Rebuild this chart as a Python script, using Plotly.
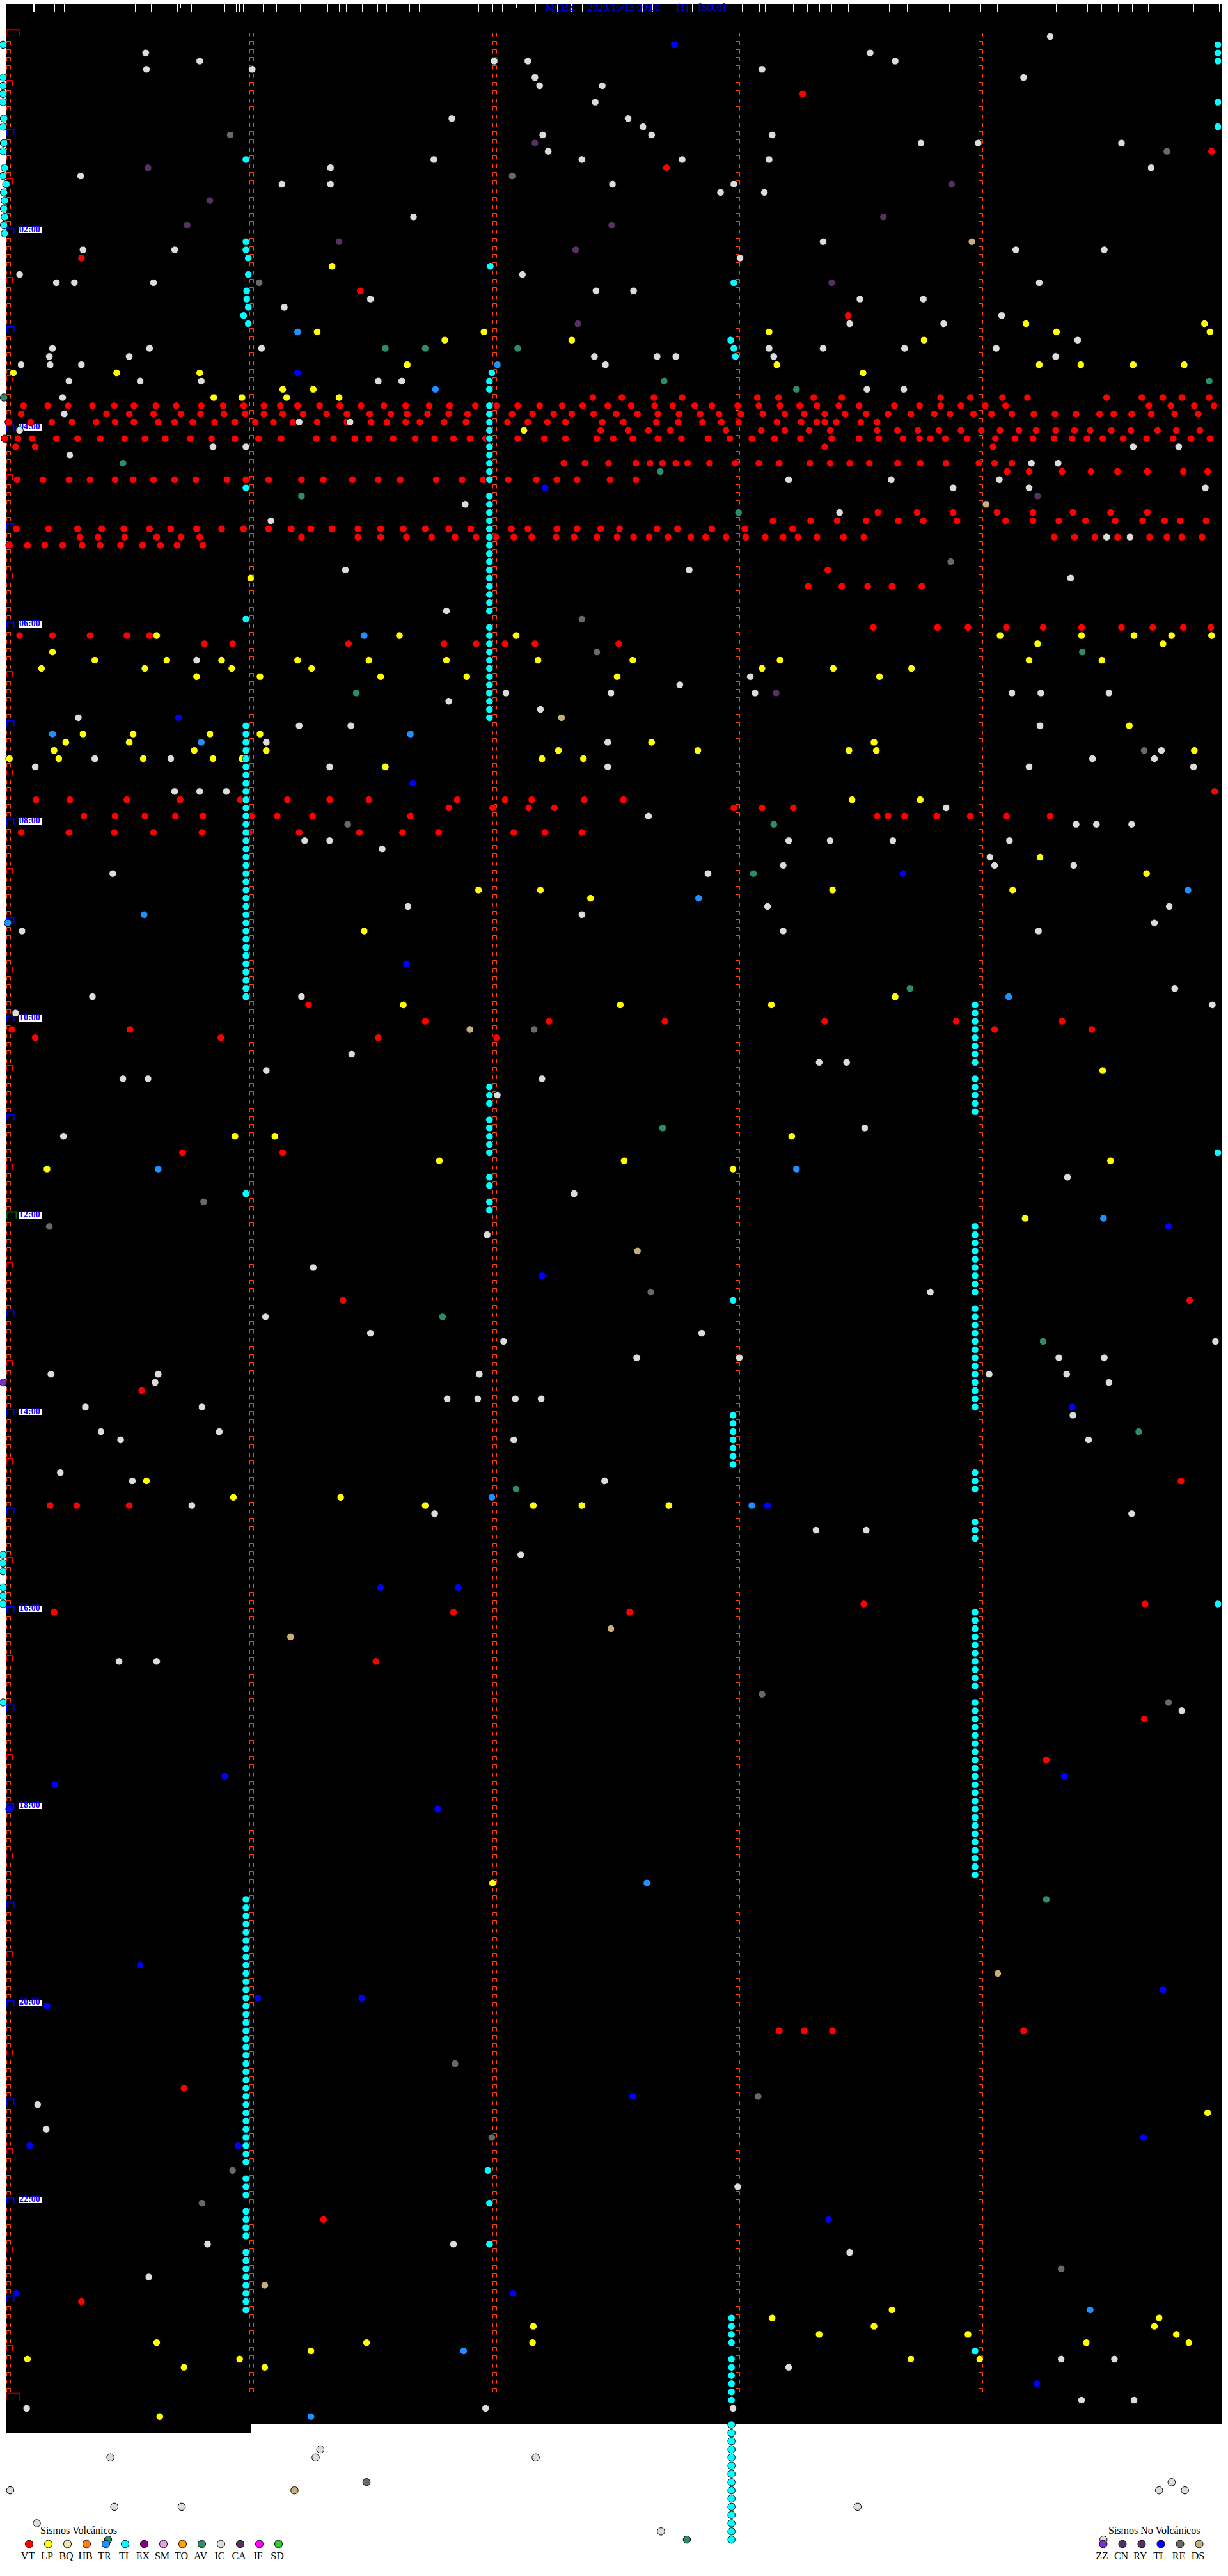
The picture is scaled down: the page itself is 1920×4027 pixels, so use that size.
import plotly.graph_objects as go

# Helicorder: each row is 5 minutes, position unit = 1/1568 of the page width
VT = {7:[1025],14:[1547],16:[851],27:[104],31:[460],34:[1083],
44:[757,794,835,871,967,994,1039,1075,1201,1239,1280,1312,1413,1458,1485,1509,1544],
45:[30,61,87,118,146,171,199,225,257,285,311,337,358,380,408,434,461,490,518,548,574,607,634,661,689,718,744,776,806,836,859,887,909,942,969,996,1021,1043,1071,1097,1142,1174,1201,1227,1258,1284,1467,1495,1525,1550],
46:[27,136,165,196,231,256,286,313,337,361,387,417,443,472,499,520,546,573,597,654,680,707,730,758,787,814,840,867,894,918,946,974,1002,1027,1053,1079,1106,1134,1163,1193,1213,1243,1266,1292,1320,1347,1374,1404,1422,1445,1470,1500,1530],
47:[11,39,66,92,123,147,171,202,223,246,274,300,326,349,374,405,443,474,494,518,536,567,595,648,674,699,722,769,796,838,866,897,921,943,992,1023,1043,1053,1068,1099,1120],
48:[767,802,828,856,927,972,1002,1033,1060,1120,1146,1172,1199,1227,1253,1277,1301,1323,1348,1372,1392,1419,1444,1478,1502,1532],
49:[6,23,41,72,99,128,159,185,211,243,270,300,330,359,404,426,453,471,502,530,555,579,600,620,661,695,722,762,783,808,840,870,904,932,960,989,1022,1062,1097,1122,1153,1174,1188,1207,1235,1271,1296,1319,1346,1369,1388,1408,1434,1464,1498,1521,1545],
50:[20,45,1053,1268],
52:[720,747,777,812,830,846,863,878,906,939,969,995,1034,1060,1085,1110,1146,1175,1208,1250,1270,1292],
53:[1286,1314,1356,1393,1427,1465,1511,1542],
54:[22,55,88,115,147,170,196,223,250,290,314,343,385,413,450,483,511,557,590,617,649,685,711,737,779,812],
58:[1121,1171,1217,1273,1319,1370,1418,1465],
59:[987,1035,1069,1106,1147,1179,1222,1284,1319,1352,1386,1424,1459,1487,1507,1540],
60:[21,62,99,130,158,191,218,251,283,311,343,372,397,424,457,486,515,543,573,601,653,674,711,737,767,791,839,865,909,951,1012],
61:[102,125,159,200,231,255,385,457,486,519,551,581,608,633,656,679,710,733,762,788,809,829,853,882,901,927,952,977,1000,1019,1043,1077,1103,1346,1372,1398,1427,1468,1490,1509,1535],
62:[12,35,57,80,105,128,154,182,205,226,259],
65:[1057],67:[1032,1075,1108,1139,1177],
72:[1115,1197,1236,1285,1332,1381,1432,1472,1511,1546],
73:[25,67,115,162,191],74:[261,297,445,567,608,645,683,790],
92:[1551],93:[46,89,162,230,307,367,421,471,584,645,679,746,796],
94:[573,629,675,708,937,973,1013],
95:[107,147,185,224,259,321,354,399,524,1120,1134,1155,1196,1239,1285,1341],
97:[27,88,146,196,258,318,382,459,514,560,656,696,743],
118:[394],120:[543,701,849,1053,1221,1356],121:[15,166,1270,1394],122:[45,282,483,634],
136:[233,361],154:[438,1519],165:[181],176:[1508],179:[64,98,165],191:[1103,1462],192:[69,579,804],
198:[480],205:[1461],210:[1336],243:[995,1027,1063,1307],250:[235],266:[413],276:[104]}

LP = {28:[424],35:[1310,1538],36:[405,618,982,1349,1545],37:[568,730,1180],40:[520,992,1327,1380,1447,1512],
41:[17,149,255,1102],43:[361,400],44:[273,309,366,433],48:[669],66:[320],
73:[200,510,659,1277,1381,1448,1496,1547],74:[1325,1485],75:[67],
76:[121,213,283,380,471,570,687,808,996,1314,1407],77:[53,185,296,398,973,1064,1164],
78:[251,332,486,596,788,1123],84:[1442],85:[106,170,268,332],86:[84,165,832,1116],
87:[69,248,340,713,891,1084,1119,1525],88:[12,75,183,272,309,692,745],89:[492],93:[1088,1175],
100:[1328],102:[1464],104:[611,690,1063,1293],105:[754],109:[465],117:[1143],118:[515,792,985],
126:[1408],134:[300,351,1011],137:[561,797,1418],138:[60,936],144:[1309],176:[187],178:[298,435],
179:[543,681,743,854],225:[629],253:[1542],277:[1139],278:[986,1480],279:[681,1116,1474],
280:[1046,1236,1502],281:[200,468,680,1387,1518],282:[397],283:[35,306,1163,1251],284:[235,338],290:[204]}

TR = {36:[380],40:[635],43:[556],73:[465],85:[67,524],86:[257],104:[1517],105:[892],107:[184],108:[10],
117:[1288],138:[202,1017],144:[1409],178:[628],179:[960],225:[826],277:[1392],282:[592],290:[397]}

AV = {38:[492,543,661],42:[848,1544],43:[1017],44:[5],52:[157],53:[843],56:[385],58:[943],75:[1382],80:[455],
96:[988],102:[962],116:[1162],133:[846],156:[565],159:[1332],170:[1454],177:[659],227:[1336],305:[138,877]}

CA = {13:[683],16:[189],18:[1215],20:[268],22:[1128],23:[239,781],25:[433],26:[735],30:[1062],35:[738],56:[1325],80:[991]}

TL = {1:[861],41:[380],55:[696],83:[228],91:[527],102:[1153],113:[519],145:[1492],151:[692],167:[1369],179:[980],
189:[486,585],212:[287,1359],213:[70],216:[12,559],235:[179],238:[1485],239:[329,462],240:[60],251:[808],
256:[1460],257:[38,304],266:[1058],275:[21,655],286:[1324]}

RE = {12:[294],14:[1490],17:[654],30:[331],64:[1214],71:[743],75:[762],87:[1461],96:[444],121:[682],142:[260],
145:[63],153:[831],202:[973],203:[1492],247:[581],251:[968],256:[628],260:[297],264:[258],272:[1355],298:[468]}

DS = {25:[1241],57:[1259],83:[717],121:[600],148:[814],194:[780],195:[371],236:[1274],274:[338],299:[376]}

ZZ = {164:[4]}

IC = {0:[1341],2:[186,1111],3:[255,631,674,1143],4:[187,322,973],5:[683,1307],6:[689,769],8:[760],10:[577,802],11:[821],
12:[693,832,986],13:[1176,1249,1432],14:[700],15:[554,743,871,982],16:[422,1470],17:[103],18:[360,422,782,937],
19:[920,976],22:[528],25:[1051],26:[106,223,1297,1410],27:[945],29:[25,667],30:[72,95,196,1327],31:[761,809],
32:[473,1098,1179],33:[363],34:[1279],35:[1085,1205],37:[1376],38:[67,191,334,982,1051,1155,1272],
39:[63,165,759,839,863,988,1348],40:[27,64,104,773],42:[88,179,257,483,513],43:[1107,1154],44:[80],46:[82],
47:[382,447],48:[25],50:[272,314,1447,1505],51:[89],52:[1317,1351],54:[1007,1138,1276],55:[1217,1314,1539],
57:[594],58:[1072],59:[346],61:[1413,1443],65:[441,880],66:[1367],70:[570],76:[251],78:[958],79:[868],
80:[646,780,964,1292,1329,1416],81:[573],82:[690],83:[100],84:[382,448,1328],86:[340,776],87:[1483],
88:[121,218,1395,1474],89:[45,421,776,1314,1524],92:[223,255,289],94:[1208],95:[828],96:[1374,1400,1445],
98:[389,421,1007,1060,1140,1289],99:[488],100:[1264],101:[1000,1270,1371],102:[144,904],106:[521,980,1493],
107:[743],108:[1474],109:[28,1000,1326],116:[1500],117:[118,385],118:[1548],119:[20],124:[449],125:[1046,1081],
126:[340],127:[157,189,692],129:[635],133:[1104],134:[81],139:[1363],141:[733],146:[622],150:[400],153:[1188],
156:[339],158:[473,896],159:[643,1552],161:[813,944,1352,1410],163:[65,202,612,1263,1362],164:[198,1416],
166:[571,610,658,691],167:[109,258],168:[1370],170:[129,280],171:[154,656,1390],175:[77],176:[169,772],179:[245],
180:[555,1445],182:[1042,1106],185:[665],198:[152,200],204:[1509],252:[48],255:[59],262:[942],269:[265,579],
270:[1085],273:[190],283:[1355,1423],284:[1007],288:[1381,1448],289:[34,620,936],294:[409],295:[141,403,684],
298:[1496],299:[13,1480,1513],301:[146,232,1095],303:[47],304:[844],305:[1409]}

# Tremor (TI) events, listed as position -> rows
TI = {
4:[1,5,6,7,8,11,14,17,185,186,187,189,190,191,203],5:[10,13,19,21,23],6:[16,20,22,24],8:[18],
311:[34],315:[31,32],317:[27,29,33,35],
314:[15,25,26,55,71,84,85,86,87,88,89,90,91,92,93,94,95,96,97,98,99,100,101,102,103,104,105,106,107,108,109,110,111,112,113,114,115,116,117,141,
227,228,229,230,231,232,233,234,235,236,237,238,239,240,241,242,243,244,245,246,247,248,249,250,251,252,253,254,255,256,257,258,259,261,262,263,265,266,267,268,270,271,272,273,274,275,276,277],
626:[28],628:[41],623:[260],
625:[42,43,45,46,47,48,49,50,51,52,53,54,56,57,58,59,60,61,62,63,64,65,66,67,68,69,70,72,73,74,75,76,77,78,79,80,81,82,83,128,129,130,132,133,134,135,136,139,140,142,143,264,269],
937:[30,38],933:[37],939:[39],
936:[154,168,169,170,171,172,173,174],
934:[278,279,280,281,283,284,285,286,287,288,291,292,293,294,295,296,297,298,299,300,301,302,303,304,305],
1245:[118,119,120,121,122,123,124,125,127,128,129,130,131,145,146,147,148,149,150,151,152,153,155,156,157,158,159,160,161,162,163,164,165,166,167,175,176,177,181,182,183,
192,193,194,195,196,197,198,199,200,201,203,204,205,206,207,208,209,210,211,212,213,214,215,216,217,218,219,220,221,222,223,224,282],
1555:[1,2,3,8,11,136,191]}

# Event ticks along the top edge (page px); the last group is estimated
TICKS = [52,53,85,100,123,176,201,211,236,277,278,298,299,351,356,369,374,380,411,432,469,512,530,541,566,590,604,622,640,655,678,700,722,748,770,785,
837,871,875,893,910,919,1000,1004,1020,1027,1077,1082,1138,1160,1187,1196,1222,1240,1262,1281,1300,1326,1349,1372,1390,1418,1441,1466,1484,1510,1533,1559,1580,1602,1630,1651,1677,1700,1722,1748,1770,1795,1818,1840,1866,1890,1906]
LONG_TICKS = [59,839]
SHORT_TICKS = [181,282,807]

TIME_LABELS = ["02:00","04:00","06:00","08:00","10:00","12:00","14:00","16:00","18:00","20:00","22:00"]
VOLC_CODES = ["VT","LP","BQ","HB","TR","TI","EX","SM","TO","AV","IC","CA","IF","SD"]
VOLC_COLORS = ["#ff0000","#ffff00","#eee8aa","#ff7f0e","#1e90ff","#00ffff","#8b008b","#e6a0e0","#ffa500","#2e8b6e","#dcdcdc","#553060","#ff00ff","#32cd32"]
NONV_CODES = ["ZZ","CN","RY","TL","RE","DS"]
NONV_COLORS = ["#7b2fcf","#4d3366","#553060","#0000ff","#696969","#c8ad7f"]

SERIF = "Liberation Serif"
X = lambda px: px * 1568 / 1920
R = lambda py: (py - 57) / 12.83
row_px = lambda r: 57 + 12.83 * r

fig = go.Figure()

def flat(d):
    xs, ys = [], []
    for r, vals in d.items():
        for v in vals:
            xs.append(v); ys.append(r)
    return xs, ys

def flat_cols(d):
    xs, ys = [], []
    for v, rows in d.items():
        for r in rows:
            xs.append(v); ys.append(r)
    return xs, ys

def segs(paths, color, width):
    xs, ys = [], []
    for path in paths:
        for px, py in path:
            xs.append(X(px)); ys.append(R(py))
        xs.append(None); ys.append(None)
    fig.add_trace(go.Scatter(x=xs, y=ys, mode="lines", line=dict(color=color, width=width),
                             hoverinfo="skip", showlegend=False))

def bracket(x0, r, w, h):
    b = round(row_px(r)) + 0.5
    return [(x0 + 0.5, b), (x0 + 0.5, b - h), (x0 + w + 0.5, b - h), (x0 + w + 0.5, b)]

# minute brackets
paths = []
for c in range(5):
    for r in range(0, 288):
        if c == 0 and r % 6 == 0:
            continue
        paths.append(bracket(10 + 380 * c, r, 6, 6))
segs(paths, "#ff4500", 1)
segs([bracket(10, r, 9, 9) for r in range(6, 288, 12)], "#ff0000", 1)
segs([bracket(10, r, 11, 9) for r in range(12, 288, 12) if r != 144], "#0000ff", 2)
segs([bracket(10, 144, 15, 11)], "#006400", 2)
segs([bracket(10, 0, 20, 11), bracket(10, 288, 20, 11)], "#8b0000", 2)

# top ticks
segs([[(t + .5, 6), (t + .5, 19)] for t in TICKS], "#ffffff", 1)
segs([[(t + .5, 6), (t + .5, 32)] for t in LONG_TICKS], "#ffffff", 1)
segs([[(t + .5, 6), (t + .5, 12)] for t in SHORT_TICKS], "#ffffff", 1)

# header text
fig.add_trace(go.Scatter(
    x=[X(853), X(919), X(1058), X(1092)], y=[R(13)] * 4, mode="text",
    text=["MCBZ", "2020/10/13 00:00", "(1)", "[5000]"], textposition="middle right",
    textfont=dict(family=SERIF, size=16, color="#0000ff"), hoverinfo="skip", showlegend=False))

# time labels
label_rows = [24 * (i + 1) for i in range(len(TIME_LABELS))]
fig.add_trace(go.Scatter(
    x=[X(30)] * len(label_rows), y=[r - 0.42 for r in label_rows], mode="text",
    text=TIME_LABELS, textposition="middle right",
    textfont=dict(family=SERIF, size=14, color="#0000ff", weight="bold"), hoverinfo="skip", showlegend=False))

def events(xs, ys, color):
    fig.add_trace(go.Scatter(x=xs, y=ys, mode="markers",
        marker=dict(size=11.5, color=color, line=dict(color="#000000", width=1)),
        hoverinfo="skip", showlegend=False))

for d, color in [(VT, "#ff0000"), (LP, "#ffff00"), (TR, "#1e90ff")]:
    events(*flat(d), color)
events(*flat_cols(TI), "#00ffff")
for d, color in [(AV, "#2e8b6e"), (CA, "#553060"), (TL, "#0000ff"), (RE, "#696969"),
                 (DS, "#c8ad7f"), (ZZ, "#7b2fcf"), (IC, "#dcdcdc")]:
    events(*flat(d), color)

# key
vx = [45.5 + 30 * i for i in range(len(VOLC_CODES))]
nx = [1725 + 30 * i for i in range(len(NONV_CODES))]
for xs, codes, cols in [(vx, VOLC_CODES, VOLC_COLORS), (nx, NONV_CODES, NONV_COLORS)]:
    fig.add_trace(go.Scatter(x=[X(v) for v in xs], y=[R(3977)] * len(xs), mode="markers",
        marker=dict(size=12, color=cols, line=dict(color="#000000", width=1)),
        hoverinfo="skip", showlegend=False))
    fig.add_trace(go.Scatter(x=[X(v - 2) for v in xs], y=[R(3997)] * len(xs), mode="text",
        text=codes, textposition="middle center",
        textfont=dict(family=SERIF, size=16, color="#000000"), hoverinfo="skip", showlegend=False))
fig.add_trace(go.Scatter(x=[X(63), X(1733)], y=[R(3957)] * 2, mode="text",
    text=["Sismos Volcánicos", "Sismos No Volcánicos"], textposition="middle right",
    textfont=dict(family=SERIF, size=16, color="#000000"), hoverinfo="skip", showlegend=False))

shapes = [
    dict(type="rect", x0=X(10), x1=X(1910), y0=R(6), y1=R(3790), fillcolor="#000000", line_width=0, layer="below"),
    dict(type="rect", x0=X(10), x1=X(392), y0=R(3790), y1=R(3803), fillcolor="#000000", line_width=0, layer="below"),
]
for r in label_rows:
    py = round(row_px(r)) - 10
    shapes.append(dict(type="rect", x0=X(30), x1=X(65), y0=R(py), y1=R(py + 10),
                       fillcolor="#ffffff", line_width=0, layer="below"))

fig.update_layout(
    width=1920, height=4027, margin=dict(l=0, r=0, t=0, b=0, pad=0),
    paper_bgcolor="#ffffff", plot_bgcolor="#ffffff", showlegend=False, shapes=shapes,
    xaxis=dict(range=[0, 1568], visible=False, fixedrange=True),
    yaxis=dict(range=[R(4027), R(0)], visible=False, fixedrange=True),
)
fig.write_html("out.html", config=dict(displayModeBar=False),
               post_script="document.body.style.margin='0';document.documentElement.style.overflow='hidden';")
